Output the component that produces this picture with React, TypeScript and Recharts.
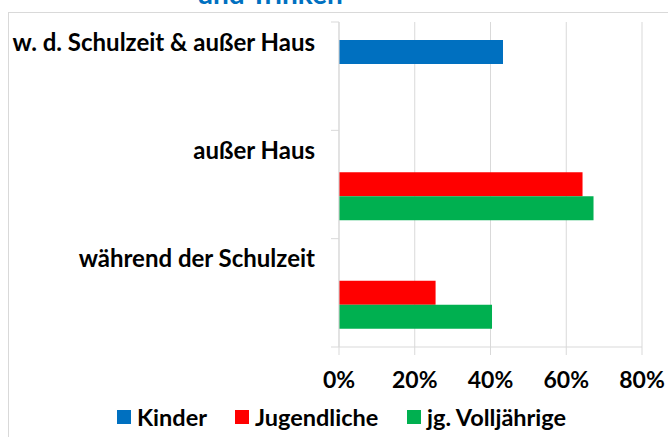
import React from 'react';
import { BarChart, Bar, XAxis, YAxis, CartesianGrid, Legend } from 'recharts';

const categories = ['w. d. Schulzeit & außer Haus', 'außer Haus', 'während der Schulzeit'];
const kinder = [43.3, null, null];
const jugendliche = [null, 64.3, 25.5];
const volljaehrige = [null, 67.2, 40.4];
const xTicks = [0, 20, 40, 60, 80];
const seriesNames = ['Kinder', 'Jugendliche', 'jg. Volljährige'];

const COLORS = ['#0070C0', '#FF0000', '#00B050'];
const GRID = '#D9D9D9';
const FONT = 'Lato, "Open Sans", sans-serif';
const LEGEND_ITEM_W = [118, 172, 180];

const W = 668;
const H = 437;
const MARGIN = { top: 22, right: 26, bottom: 50, left: 0 };
const X_AXIS_H = 40;
const Y_AXIS_W = 339;
const PLOT_H = H - MARGIN.top - MARGIN.bottom - X_AXIS_H;
const BAND = PLOT_H / categories.length;

const data = categories.map((name, i) => ({
  name,
  kinder: kinder[i],
  jugendliche: jugendliche[i],
  volljaehrige: volljaehrige[i],
}));

// category labels sit at the top of each band, with small ticks on the band borders
const CategoryTick = (props: any) => {
  const { x, y, payload, index } = props;
  const top = y - BAND / 2;
  const bottom = y + BAND / 2;
  return (
    <g>
      <line x1={x + 16} x2={x + 24} y1={top} y2={top} stroke={GRID} />
      {index === categories.length - 1 && (
        <line x1={x + 16} x2={x + 24} y1={bottom} y2={bottom} stroke={GRID} />
      )}
      <text
        x={x}
        y={top + 19}
        textAnchor="end"
        dominantBaseline="central"
        fontFamily={FONT}
        fontWeight={700}
        fontSize={24}
        fill="#000"
      >
        {payload.value}
      </text>
    </g>
  );
};

// legend keeps the series order of the source chart
const renderLegend = () => (
  <div style={{ display: 'flex', paddingLeft: 117, fontFamily: FONT, fontWeight: 700, fontSize: 23.5, color: '#000' }}>
    {seriesNames.map((name, i) => (
      <div key={`item-${i}`} style={{ display: 'flex', alignItems: 'center', width: LEGEND_ITEM_W[i] }}>
        <span style={{ display: 'inline-block', width: 14, height: 14, background: COLORS[i], marginRight: 6 }} />
        <span style={{ whiteSpace: 'nowrap' }}>{name}</span>
      </div>
    ))}
  </div>
);

const App: React.FC = () => {
  return (
    <div style={{ position: 'fixed', left: 0, top: 0, width: W, height: H, overflow: 'hidden', background: '#fff' }}>
      <div style={{ position: 'absolute', left: 8, top: 12, width: 700, height: 500, border: `1px solid ${GRID}` }} />
      <svg style={{ position: 'absolute', left: 0, top: 0 }} width={W} height={20}>
        <text x={270} y={4} textAnchor="middle" fontFamily={FONT} fontWeight={700} fontSize={28} fill="#0070C0">
          und Trinken
        </text>
      </svg>
      <div style={{ position: 'absolute', left: 0, top: 0 }}>
        <BarChart width={W} height={H} data={data} layout="vertical" margin={MARGIN} barGap={0}>
          <CartesianGrid horizontal={false} stroke={GRID} />
          <XAxis
            type="number"
            domain={[0, 80]}
            ticks={xTicks}
            tickFormatter={(v: number) => `${v}%`}
            height={X_AXIS_H}
            axisLine={{ stroke: GRID }}
            tickLine={{ stroke: GRID }}
            tickSize={8}
            tickMargin={17}
            tick={{ fontFamily: FONT, fontWeight: 700, fontSize: 23, fill: '#000' }}
          />
          <YAxis
            type="category"
            dataKey="name"
            width={Y_AXIS_W}
            axisLine={{ stroke: GRID }}
            tickLine={false}
            tickSize={8}
            tickMargin={16}
            tick={<CategoryTick />}
          />
          <Legend
            layout="horizontal"
            verticalAlign="middle"
            align="center"
            content={renderLegend}
            wrapperStyle={{ top: 403, left: 0, width: W }}
          />
          <Bar dataKey="kinder" name={seriesNames[0]} fill={COLORS[0]} barSize={24} isAnimationActive={false} />
          <Bar dataKey="jugendliche" name={seriesNames[1]} fill={COLORS[1]} barSize={24} isAnimationActive={false} />
          <Bar dataKey="volljaehrige" name={seriesNames[2]} fill={COLORS[2]} barSize={24} isAnimationActive={false} />
        </BarChart>
      </div>
    </div>
  );
};

export default App;
